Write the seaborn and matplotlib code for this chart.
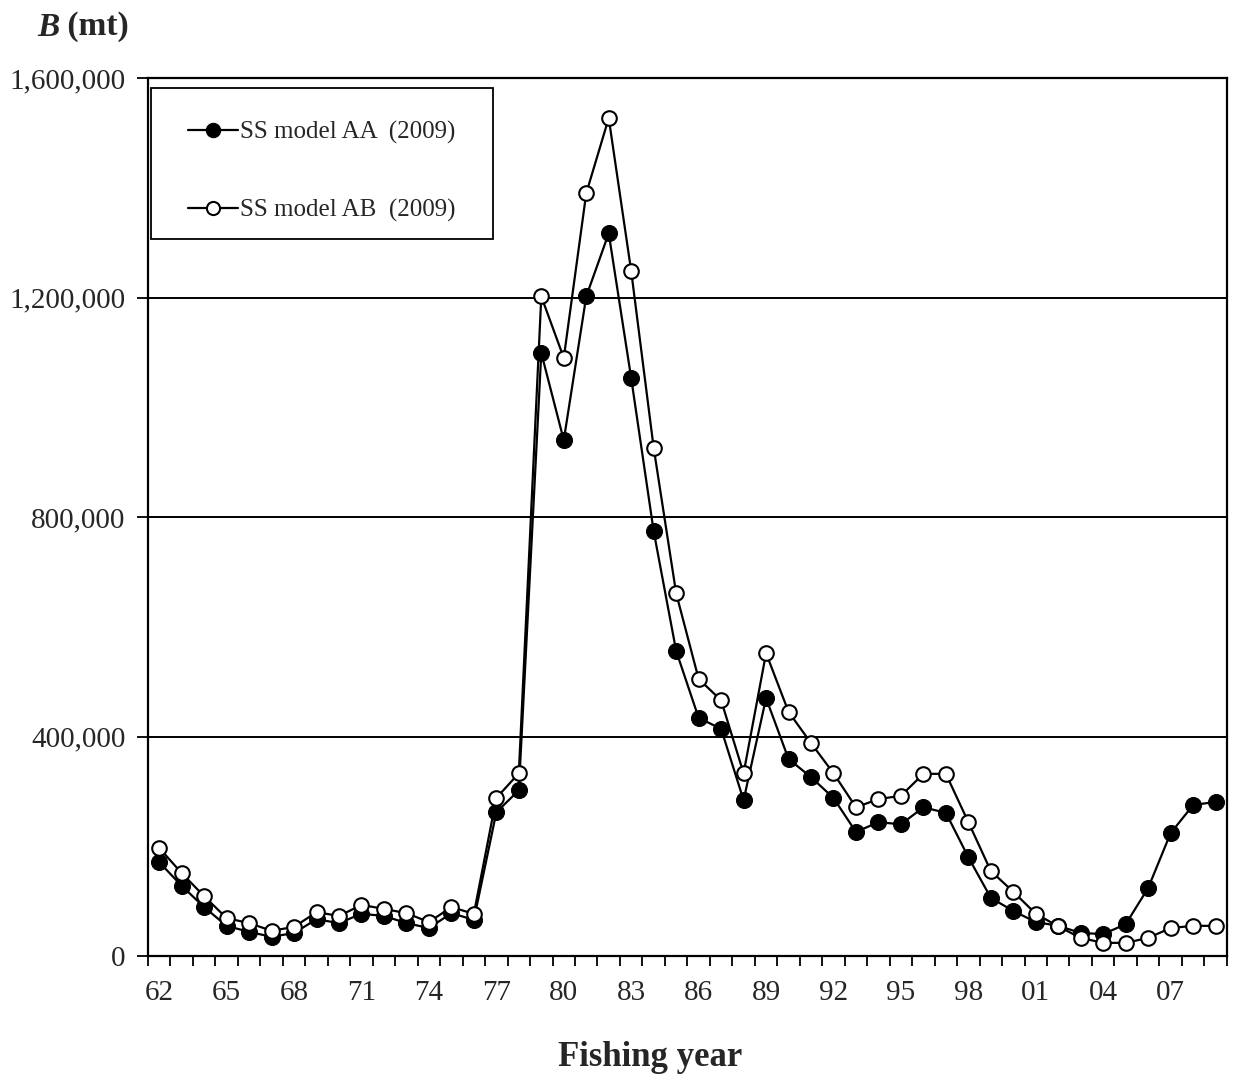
import matplotlib
matplotlib.use("Agg")
import matplotlib.pyplot as plt
import seaborn as sns
import pandas as pd
from matplotlib.patches import Rectangle
from matplotlib.ticker import FixedLocator, StrMethodFormatter

# Data (biomass in mt)
years = list(range(1962, 2010))
model_aa = [171000, 128000, 89000, 55000, 44000, 35000, 42000, 67000, 60000, 77000,
            73000, 60000, 51000, 78000, 66000, 262000, 302000, 1099000, 940000, 1202000,
            1317000, 1053000, 774000, 556000, 434000, 414000, 284000, 470000, 359000, 326000,
            288000, 226000, 244000, 240000, 271000, 261000, 180000, 106000, 82000, 62000,
            55000, 42000, 40000, 58000, 124000, 224000, 275000, 281000]
model_ab = [197000, 151000, 109000, 69000, 60000, 46000, 53000, 80000, 73000, 93000,
            86000, 78000, 62000, 89000, 77000, 288000, 333000, 1202000, 1090000, 1390000,
            1527000, 1248000, 926000, 661000, 505000, 466000, 333000, 552000, 445000, 388000,
            333000, 271000, 286000, 292000, 332000, 332000, 244000, 155000, 117000, 77000,
            54000, 33000, 24000, 24000, 33000, 51000, 55000, 55000]
label_aa = "SS model AA  (2009)"
label_ab = "SS model AB  (2009)"
tick_years = [1962, 1965, 1968, 1971, 1974, 1977, 1980, 1983, 1986, 1989, 1992, 1995,
              1998, 2001, 2004, 2007]
tick_labels = ["62", "65", "68", "71", "74", "77", "80", "83", "86", "89", "92", "95",
               "98", "01", "04", "07"]
y_ticks = [0, 400000, 800000, 1200000, 1600000]

df_aa = pd.DataFrame({"year": years, "B": model_aa})
df_ab = pd.DataFrame({"year": years, "B": model_ab})

sns.set_theme(style="white")
plt.rcParams["font.family"] = ["Liberation Serif", "DejaVu Serif"]

fig = plt.figure(figsize=(12.33, 10.76), dpi=100)
ax = fig.add_axes([0.120, 0.1115, 0.875, 0.816])

# horizontal gridlines
for v in y_ticks[1:-1]:
    ax.axhline(v, color="black", linewidth=1.4, zorder=0)

sns.lineplot(data=df_aa, x="year", y="B", ax=ax, color="black", linewidth=1.6,
             marker="o", markersize=11.5, markerfacecolor="black", markeredgecolor="black",
             label=label_aa)
sns.lineplot(data=df_ab, x="year", y="B", ax=ax, color="black", linewidth=1.6,
             marker="o", markersize=10.5, markerfacecolor="white", markeredgecolor="black",
             markeredgewidth=1.5, label=label_ab)

ax.set_xlim(years[0] - 0.5, years[-1] + 0.5)
ax.set_ylim(y_ticks[0], y_ticks[-1])

ax.set_xticks(tick_years)
ax.set_xticklabels(tick_labels)
ax.xaxis.set_minor_locator(FixedLocator([y - 0.5 for y in years] + [years[-1] + 0.5]))
ax.tick_params(axis="x", which="major", length=0, pad=17, labelsize=21)
ax.tick_params(axis="x", which="minor", length=7, width=1.3, direction="out",
               color="black", bottom=True)

ax.set_yticks(y_ticks)
ax.yaxis.set_major_formatter(StrMethodFormatter("{x:,.0f}"))
ax.tick_params(axis="y", which="major", length=8, width=1.3, direction="out",
               color="black", left=True, pad=8, labelsize=21)

for s in ax.spines.values():
    s.set_color("black")
    s.set_linewidth(1.6)

ax.set_xlabel("")
ax.set_ylabel("")

# legend box drawn separately so it can be wider than its contents
ax.add_patch(Rectangle((0.0028, 0.8166), 0.317, 0.172, transform=ax.transAxes,
                       facecolor="white", edgecolor="black", linewidth=1.3, zorder=4))
leg = ax.legend(loc="upper left", bbox_to_anchor=(0.037, 0.9515), fontsize=18,
                frameon=False, labelspacing=2.2, borderpad=0, handlelength=2.0,
                handletextpad=0.1, borderaxespad=0, markerscale=0.9)
leg.set_zorder(5)

fig.text(650 / 1233, 1 - 1057 / 1076, "Fishing year", ha="center", va="center",
         fontsize=25, fontweight="bold")
t = fig.text(37 / 1233, 1 - 27 / 1076, "B", ha="left", va="center", fontsize=24,
             fontweight="bold", fontstyle="italic")
# place "(mt)" right after "B"
ax.annotate(" (mt)", xy=(1, 0), xycoords=t, ha="left", va="bottom",
            fontsize=24, fontweight="bold", annotation_clip=False)

fig.savefig("out.png", dpi=100)
